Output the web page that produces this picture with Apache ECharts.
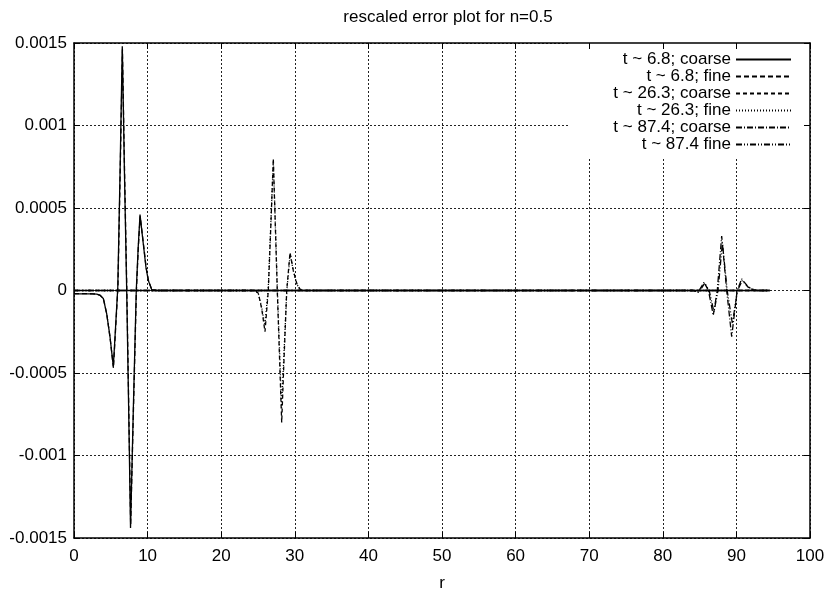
<!DOCTYPE html>
<html>
<head>
<meta charset="utf-8">
<script src="https://cdn.jsdelivr.net/npm/echarts@6/dist/echarts.min.js"></script>
<style>
  html, body { margin: 0; padding: 0; background: #fff; }
  #chart { width: 830px; height: 597px; }
</style>
</head>
<body>
<div id="chart"></div>
<script>
// Rescaled error e(r) for n = 0.5 at three times, coarse and fine grids.
// Each entry is [r, error].
const coarse68 = [
  [0, -0.00002], [1.5, -0.00002], [2.5, -0.000021], [3.1, -0.000022], [3.53, -0.000028],
  [3.98, -0.000048], [4.44, -0.00014], [4.89, -0.00028], [5.34, -0.00046], [5.65, -0.00022],
  [5.95, 0.00002], [6.25, 0.0007], [6.56, 0.00148], [6.86, 0.0007], [7.16, 0],
  [7.42, -0.0007], [7.68, -0.00144], [8.07, -0.0007], [8.46, 0], [8.72, 0.00026],
  [8.97, 0.00046], [9.42, 0.00028], [9.78, 0.00014], [10.1, 0.00006], [10.56, 0.000005],
  [11.2, 0], [94.5, 0]
];
const fine68 = [
  [0, -0.000019], [1.5, -0.000019], [2.5, -0.00002], [3.1, -0.000022], [3.55, -0.000029],
  [4.0, -0.00005], [4.46, -0.000145], [4.91, -0.00029], [5.36, -0.00047], [5.67, -0.00022],
  [5.97, 0.00002], [6.27, 0.0007], [6.58, 0.00146], [6.88, 0.0007], [7.18, 0],
  [7.44, -0.0007], [7.7, -0.00142], [8.09, -0.0007], [8.48, 0], [8.74, 0.00026],
  [8.99, 0.00045], [9.44, 0.00028], [9.8, 0.00014], [10.12, 0.00006], [10.58, 0.000005],
  [11.2, 0], [94.5, 0]
];
const coarse263 = [
  [0, 0], [24.6, 0], [25.04, -0.000016], [25.5, -0.00011], [25.95, -0.00025],
  [26.4, 0], [26.75, 0.0004], [27.08, 0.0008], [27.35, 0.0004], [27.62, 0],
  [27.92, -0.0004], [28.22, -0.0008], [28.55, -0.0004], [28.9, 0], [29.35, 0.00023],
  [29.8, 0.00012], [30.26, 0.000044], [30.7, 0.000008], [31.2, 0], [94.5, 0]
];
const fine263 = [
  [0, 0], [24.6, 0], [25.05, -0.00002], [25.5, -0.0001], [25.92, -0.00021],
  [26.38, 0], [26.74, 0.0004], [27.08, 0.00078], [27.36, 0.0004], [27.63, 0],
  [27.93, -0.00036], [28.2, -0.00071], [28.55, -0.00036], [28.92, 0], [29.37, 0.00022],
  [29.8, 0.00012], [30.26, 0.00004], [30.7, 0.000006], [31.2, 0], [94.5, 0]
];
const coarse874 = [
  [0, 0], [84.1, 0], [84.8, -0.00001], [85.6, 0.00005], [86.2, 0],
  [86.86, -0.00015], [87.4, 0], [88.0, 0.00033], [88.68, 0], [89.36, -0.00028],
  [90.1, 0], [90.72, 0.00007], [91.6, 0.000022], [92.2, 0.000005], [92.8, 0], [94.5, 0]
];
const fine874 = [
  [0, 0], [84.2, 0], [84.9, -0.000012], [85.7, 0.000045], [86.3, 0],
  [86.95, -0.00013], [87.5, 0], [88.1, 0.00029], [88.75, 0], [89.45, -0.0002],
  [90.15, 0], [90.8, 0.00006], [91.6, 0.00002], [92.8, 0], [94.5, 0]
];

const seriesNames = [
  't ~ 6.8; coarse', 't ~ 6.8; fine',
  't ~ 26.3; coarse', 't ~ 26.3; fine',
  't ~ 87.4; coarse', 't ~ 87.4 fine'
];
const seriesData = [coarse68, fine68, coarse263, fine263, coarse874, fine874];
const dashes = ['solid', [5, 3], [4, 3], [1, 2], [6, 2, 1, 2], [6, 2, 1, 2, 1, 2]];

const xRange = [0, 100, 10];
const yRange = [-0.0015, 0.0015, 0.0005];

const FONT = 'Liberation Sans, Arial, Helvetica, sans-serif';
const chart = echarts.init(document.getElementById('chart'), null, { renderer: 'canvas' });

const fmtY = v => String(+v.toFixed(4));

const frameAxis = {
  axisLine: { show: true, onZero: false, lineStyle: { color: '#000', width: 1.5 } },
  axisTick: { show: true, inside: true, length: 6, lineStyle: { color: '#000', width: 1 } }
};

chart.setOption({
  animation: false,
  backgroundColor: '#fff',
  title: {
    text: 'rescaled error plot for n=0.5',
    left: 443, top: 4, textAlign: 'center',
    textStyle: { fontFamily: FONT, fontSize: 17, fontWeight: 'normal', color: '#000' }
  },
  grid: { left: 74, right: 20, top: 43, bottom: 51, containLabel: false },
  legend: {
    orient: 'vertical', align: 'right',
    right: 20, top: 43,
    padding: [8, 18, 5, 44],
    backgroundColor: '#fff',
    itemWidth: 55, itemHeight: 14, itemGap: 0,
    itemStyle: { opacity: 0 },
    textStyle: { fontFamily: FONT, fontSize: 17, lineHeight: 16.5, color: '#000' },
    data: seriesNames
  },
  xAxis: [
    Object.assign({
      type: 'value', min: xRange[0], max: xRange[1], interval: xRange[2],
      name: 'r', nameLocation: 'middle', nameGap: 37,
      nameTextStyle: { fontFamily: FONT, fontSize: 17, color: '#000' },
      axisLabel: { fontFamily: FONT, fontSize: 17, color: '#000', margin: 10 },
      splitLine: { show: true, lineStyle: { color: '#222', width: 1, type: [2, 2] } }
    }, frameAxis),
    Object.assign({
      type: 'value', position: 'top', min: xRange[0], max: xRange[1], interval: xRange[2],
      axisLabel: { show: false }, splitLine: { show: false }, z: 10
    }, frameAxis)
  ],
  yAxis: [
    Object.assign({
      type: 'value', min: yRange[0], max: yRange[1], interval: yRange[2],
      axisLabel: { fontFamily: FONT, fontSize: 17, color: '#000', margin: 7, formatter: fmtY },
      splitLine: { show: true, lineStyle: { color: '#222', width: 1, type: [2, 2] } }
    }, frameAxis),
    Object.assign({
      type: 'value', position: 'right', min: yRange[0], max: yRange[1], interval: yRange[2],
      axisLabel: { show: false }, splitLine: { show: false }, z: 10
    }, frameAxis)
  ],
  series: seriesNames.map((name, i) => ({
    name: name,
    type: 'line',
    data: seriesData[i],
    symbol: 'none',
    showSymbol: false,
    silent: true,
    lineStyle: { color: '#000', width: 1.3, type: dashes[i] },
    itemStyle: { color: '#000' }
  }))
});
</script>
</body>
</html>
